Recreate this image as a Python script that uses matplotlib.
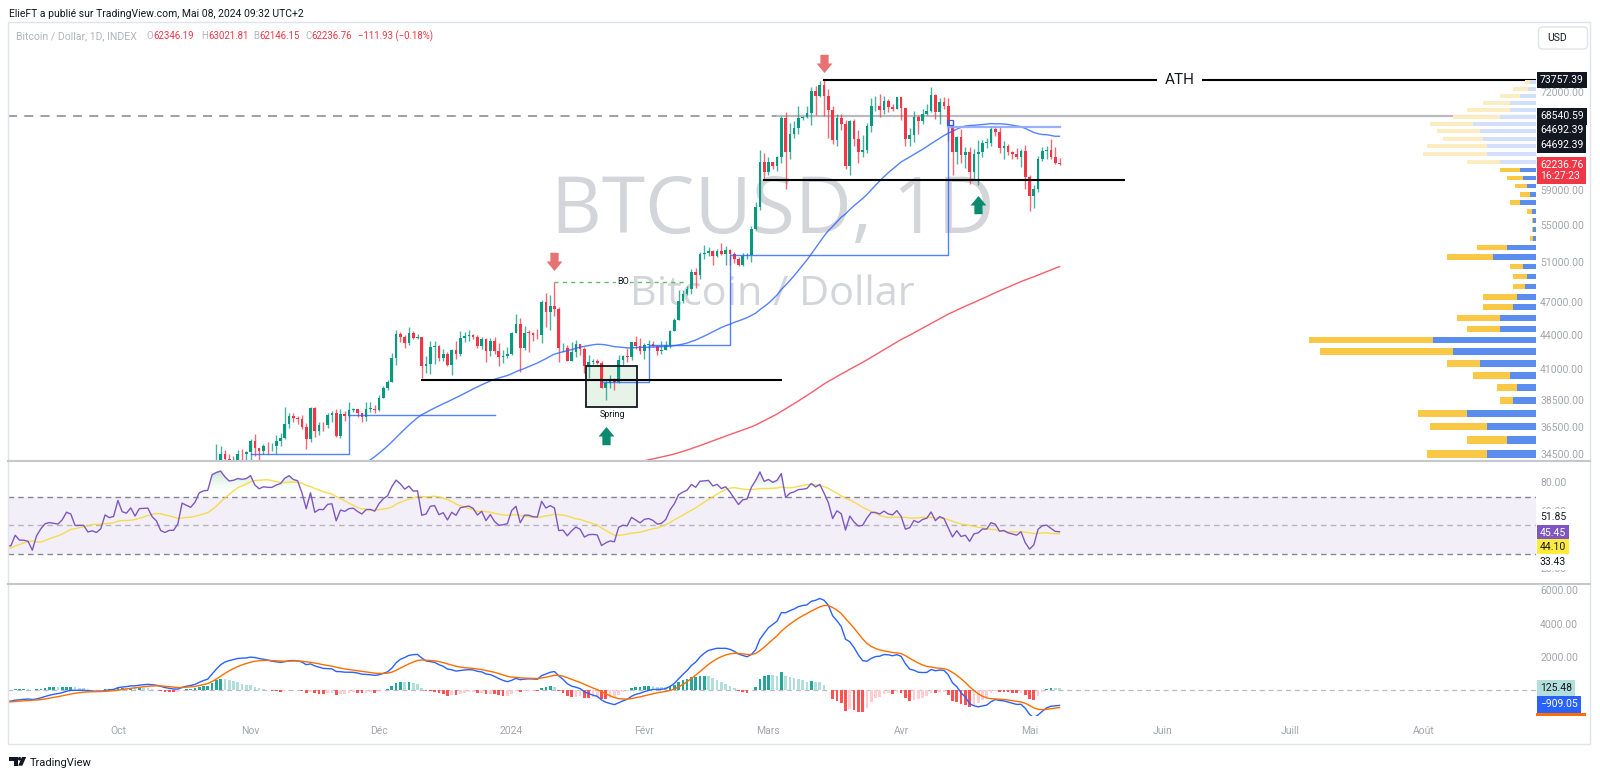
import numpy as np
import pandas as pd
import matplotlib
matplotlib.use("Agg")
import matplotlib.pyplot as plt
import matplotlib.dates as mdates
import matplotlib.transforms as mtransforms
from matplotlib.patches import Rectangle, FancyBboxPatch, Polygon, Circle
from matplotlib.lines import Line2D
from matplotlib.path import Path
from matplotlib.colors import LinearSegmentedColormap
from matplotlib.ticker import FixedLocator, NullLocator, FuncFormatter

plt.rcParams['font.family'] = ['Roboto', 'DejaVu Sans']

# ---------------- DATA ----------------
series_start = "2023-07-01"
c_2023_07 = [30585, 30617, 31156, 30767, 30505, 29895, 30347, 30292, 30171, 30414, 30620, 30391, 31476, 30334, 30295,
             30249, 30145, 29856, 29913, 29792, 29908, 29771, 30083, 29176, 29228, 29354, 29210, 29319, 29356, 29275, 29230]
c_2023_08 = [29675, 29151, 29176, 29075, 29043, 29041, 29180, 29765, 29561, 29429, 29397, 29415, 29283, 29408, 29170,
             28701, 26664, 26049, 26096, 26189, 26124, 26052, 26432, 26163, 26048, 26009, 26090, 26106, 27727, 27297, 25931]
c_2023_09 = [25800, 25869, 25940, 25812, 25780, 25753, 26240, 25906, 25895, 25830, 25162, 25840, 26228, 26540, 26608,
             26568, 26530, 26760, 27210, 27130, 26570, 26580, 26580, 26250, 26300, 26220, 26370, 27020, 26910, 26970]
c_2023_10 = [27990, 27500, 27430, 27790, 27410, 27930, 27950, 27970, 27590, 27390, 26870, 26760, 26860, 26860, 27150,
             28520, 28420, 28330, 28720, 29680, 29920, 30000, 33090, 33920, 34500, 34160, 33910, 34090, 34540, 34500, 34660]
c_2023_11 = [35440, 34940, 34730, 35080, 35050, 35050, 35420, 35650, 36700, 37310, 37130, 37070, 36490, 35550, 37880,
             36160, 36600, 36580, 37390, 37480, 35810, 37430, 37290, 37720, 37800, 37480, 37250, 37830, 37860, 37720]
c_2023_12 = [38690, 39470, 39980, 41980, 44080, 43760, 43290, 44170, 43720, 43790, 41240, 41450, 42890, 43020, 41940,
             42280, 41370, 42660, 42270, 43660, 43860, 43990, 43740, 43020, 43600, 42520, 43440, 42580, 42070, 42140, 42280]
c_2024_01 = [44180, 44950, 42850, 44180, 44160, 43970, 43930, 46970, 46110, 46630, 46340, 42780, 42840, 41730, 42510,
             43150, 42740, 41270, 41620, 41660, 41570, 39510, 39850, 40080, 39930, 41810, 42120, 42030, 43300, 42950, 42580]
c_2024_02 = [43080, 43190, 42990, 42580, 42660, 43090, 44340, 45290, 47130, 47770, 48290, 49960, 49700, 51810, 51940,
             52120, 51640, 52140, 51780, 52260, 51830, 51300, 50730, 51570, 51730, 54490, 57050, 62500, 61200]
c_2024_03 = [62440, 62030, 63170, 68330, 63800, 66110, 66930, 68300, 68500, 69020, 72120, 71480, 73080, 71400, 69400,
             65300, 68390, 67550, 61930, 67910, 65490, 63780, 64060, 67230, 69960, 69990, 69460, 70780, 69900, 69650, 71330]
c_2024_04 = [69700, 65460, 65980, 68510, 67840, 68900, 69360, 71630, 69140, 70590, 70060, 67200, 63800, 65740, 63420,
             63810, 61280, 63470, 63810, 64940, 64940, 66840, 66410, 64290, 64500, 63770, 63460, 63120, 63840, 60640]
c_2024_05 = [58250, 59120, 62890, 63890, 64030, 63160, 62346.19, 62236.76]

# (high, low) per day, from 2023-10-16
ohlc_start = "2023-10-16"
hl_2023_10 = [(30000, 27100), (28600, 28100), (28900, 28150), (28950, 28200), (30200, 28600), (30350, 29500),
              (30200, 29700), (34000, 29900), (35200, 32900), (35100, 33700), (34800, 33700), (34500, 33400),
              (34400, 33900), (34800, 33900), (34900, 34000), (34700, 34100)]
hl_2023_11 = [(35600, 34100), (35950, 34400), (34950, 34100), (35250, 34550), (35400, 34550), (35300, 34750),
              (35900, 34550), (36000, 35100), (37950, 35600), (37550, 36400), (37500, 36800), (37300, 36700),
              (37400, 36350), (36750, 34900), (37950, 35400), (37950, 35700), (36800, 35900), (36850, 36200),
              (37500, 36400), (37700, 36800), (37850, 35700), (37850, 35650), (37650, 36900), (38400, 37250),
              (37900, 37600), (37850, 37200), (37550, 36800), (38350, 36900), (38400, 37600), (38150, 37500)]
hl_2023_12 = [(38950, 37650), (39650, 38650), (40150, 39300), (42350, 39950), (44450, 41400), (44250, 43350),
              (44000, 42850), (44650, 43100), (44350, 43600), (44050, 43600), (43800, 40250), (42100, 40700),
              (43450, 40600), (43400, 41450), (43100, 41700), (42700, 41700), (42450, 41250), (42750, 40550),
              (43450, 41850), (44300, 42150), (44250, 43300), (44400, 43400), (44050, 43600), (43950, 42800),
              (43800, 42750), (43650, 41650), (43700, 42100), (43800, 42300), (43250, 41300), (42600, 41550),
              (42900, 41950)]
hl_2024_01 = [(44200, 42200), (45900, 44200), (45500, 40800), (44750, 42650), (44450, 42500), (44200, 43450),
              (44500, 43600), (47200, 43250), (47900, 44700), (47700, 44400), (49000, 45650), (46500, 41600),
              (43250, 42450), (43050, 41700), (43300, 41750), (43550, 42050), (43200, 42200), (42900, 40700),
              (42200, 40300), (41850, 41450), (41850, 41450), (41700, 39450), (40150, 38550), (40500, 39500),
              (40300, 39300), (42200, 39850), (42200, 41400), (42800, 41650), (43300, 41800), (43850, 42700),
              (43700, 42300)]
hl_2024_02 = [(43250, 41900), (43500, 42600), (43400, 42900), (43100, 42250), (43450, 42300), (43400, 42600),
              (44400, 42800), (45500, 44300), (48200, 45300), (48150, 46900), (48550, 47700), (50300, 47750),
              (50350, 48350), (52000, 49300), (52800, 51350), (52600, 51600), (52200, 50650), (52400, 51500),
              (52950, 51700), (52700, 50700), (52350, 50650), (52000, 50900), (51550, 50550), (51950, 50550),
              (51950, 51300), (54900, 50950), (57550, 54450), (64000, 56700), (63650, 60400)]
hl_2024_03 = [(63150, 60800), (62450, 61600), (63250, 61300), (68550, 62400), (69150, 59150), (67650, 62850),
              (67950, 65600), (69950, 66200), (68650, 68100), (70000, 68300), (72800, 67300), (72900, 68800),
              (73600, 71350), (73757.39, 68600), (72400, 65600), (70000, 64800), (68900, 64550), (68900, 66650),
              (68100, 61550), (68050, 60800), (68250, 64600), (66650, 62300), (65950, 63100), (67600, 63600),
              (71150, 66400), (71500, 69300), (71700, 68400), (71500, 68950), (71050, 69150), (70300, 69300),
              (71350, 69550)]
hl_2024_04 = [(71250, 68100), (69700, 64550), (66900, 64500), (69250, 65050), (68700, 66100), (69600, 67450),
              (70300, 68750), (72750, 69100), (71700, 68250), (71150, 67500), (71250, 69600), (71200, 65250),
              (67900, 60900), (65850, 62200), (66850, 62300), (64350, 61700), (64450, 59800), (64100, 60250),
              (65400, 59650), (65400, 63100), (65650, 64300), (67200, 64500), (67200, 65900), (67050, 63600),
              (65250, 62800), (64800, 63350), (63900, 62800), (64300, 62800), (64200, 61800), (64700, 59200)]
hl_2024_05 = [(60800, 56600), (59600, 56900), (63300, 58800), (64450, 62600), (64500, 62900), (65450, 62800),
              (64350, 62250), (63021.81, 62146.15)]

# visible-range volume profile: rows of 1000 USD (centres), total and up-volume (relative units)
vp_price = [34500, 35500, 36500, 37500, 38500, 39500, 40500, 41500, 42500, 43500, 44500, 45500, 46500, 47500,
            48500, 49500, 50500, 51500, 52500, 53500, 54500, 55500, 56500, 57500, 58500, 59500, 60500, 61500,
            62500, 63500, 64500, 65500, 66500, 67500, 68500, 69500, 70500, 71500, 72500, 73500]
vp_total = [109, 69, 106, 118, 36, 39, 63, 89, 216, 227, 69, 79, 53, 53, 23, 23, 26, 89, 59, 6, 4, 4, 9, 26,
            16, 21, 29, 36, 69, 113, 109, 93, 99, 106, 83, 69, 53, 36, 23, 11]
vp_up = [49, 29, 49, 69, 23, 19, 26, 56, 83, 103, 36, 36, 23, 19, 11, 9, 13, 43, 29, 3, 3, 3, 4, 16,
         6, 9, 13, 16, 36, 49, 49, 53, 56, 63, 36, 26, 26, 16, 8, 6]
value_area_top = 62000

# annotation levels
ath_level = 73757.39
ath_start = "2024-03-14"
ath_text_date = "2024-06-05"
gray_level = 68540.59
gray_switch = "2024-03-03"
support_hi = (60250, "2024-02-29", "2024-05-23")
support_lo = (40150, "2023-12-11", "2024-03-04")
range_a_dates = ["2023-11-01", "2023-11-24", "2023-12-28"]
range_a_levels = [34500, 37370, 37370]
range_b_dates = ["2024-01-22", "2024-02-02", "2024-02-21", "2024-04-12"]
range_b_levels = [39980, 43050, 51770, 67750]
range_c = (67070, "2024-04-12", "2024-05-08")
bo_level, bo_start, bo_end, bo_text_date = 49000, "2024-01-11", "2024-02-11", "2024-01-27"
spring_box = ("2024-01-18 07:00", "2024-01-30 05:00", 37960, 41270)
spring_label = ("2024-01-24 12:00", 37370)
red_arrows = [("2024-03-14", 76470), ("2024-01-11", 51070)]
green_arrows = [("2024-01-23", 35800), ("2024-04-19", 57250)]

month_ticks = ["2023-10-01", "2023-11-01", "2023-12-01", "2024-01-01", "2024-02-01", "2024-03-01",
               "2024-04-01", "2024-05-01", "2024-06-01", "2024-07-01", "2024-08-01"]
month_labels = ["Oct", "Nov", "Déc", "2024", "Févr", "Mars", "Avr", "Mai", "Juin", "Juill", "Août"]
price_ticks = [34500, 36500, 38500, 41000, 44000, 47000, 51000, 55000, 59000, 72000]
rsi_ticks = [20, 60, 80]
macd_ticks = [2000, 4000, 6000]

# ---------------- PREP ----------------
closes = np.array(c_2023_07 + c_2023_08 + c_2023_09 + c_2023_10 + c_2023_11 + c_2023_12 +
                  c_2024_01 + c_2024_02 + c_2024_03 + c_2024_04 + c_2024_05, dtype=float)
dates = pd.date_range(series_start, periods=len(closes), freq="D")
hl = hl_2023_10 + hl_2023_11 + hl_2023_12 + hl_2024_01 + hl_2024_02 + hl_2024_03 + hl_2024_04 + hl_2024_05
i0 = dates.get_loc(pd.Timestamp(ohlc_start))
o = closes[i0 - 1:-1]
cl = closes[i0:]
hi = np.maximum(np.array([p[0] for p in hl], float), np.maximum(o, cl))
lo = np.minimum(np.array([p[1] for p in hl], float), np.minimum(o, cl))
xd = mdates.date2num(dates[i0:])
xall = mdates.date2num(dates)

cs = pd.Series(closes, index=dates)
sma50 = cs.rolling(50).mean()
sma200 = cs.rolling(200).mean()
delta = cs.diff()
upm = delta.clip(lower=0).ewm(alpha=1 / 14, adjust=False).mean()
dnm = (-delta.clip(upper=0)).ewm(alpha=1 / 14, adjust=False).mean()
rsi = (100 - 100 / (1 + upm / dnm)).iloc[1:]
rsi_ma = rsi.rolling(14).mean()
ema12 = cs.ewm(span=12, adjust=False).mean()
ema26 = cs.ewm(span=26, adjust=False).mean()
macd = ema12 - ema26
sig = macd.ewm(span=9, adjust=False).mean()
hist = (macd - sig).values

# ---------------- FIGURE ----------------
W, H = 1600, 772
fig = plt.figure(figsize=(16, 7.72), dpi=100)
fig.patch.set_facecolor("white")
renderer = fig.canvas.get_renderer()
ID = mtransforms.IdentityTransform()


def fx(px):
    return px / W


def fy(py):
    return 1 - py / H


L, R = 8, 1536
T_P, B_P, B_R, B_M = 22, 461, 584, 716
ax = fig.add_axes([fx(L), fy(B_P), (R - L) / W, (B_P - T_P) / H])
ax_rsi = fig.add_axes([fx(L), fy(B_R), (R - L) / W, (B_R - B_P) / H], sharex=ax)
ax_macd = fig.add_axes([fx(L), fy(B_M), (R - L) / W, (B_M - B_R) / H], sharex=ax)

PXD = 4.28
x0 = mdates.date2num(pd.Timestamp("2023-10-01")) - (117.9 - L) / PXD
x1 = x0 + (R - L) / PXD

UP, DN = "#089981", "#f23645"
GRAYTXT = "#a3a6af"

for a in (ax, ax_rsi, ax_macd):
    for s in a.spines.values():
        s.set_visible(False)
    a.set_facecolor("none")
    a.tick_params(axis="y", left=False, right=False, labelleft=False, labelright=True,
                  labelsize=7.5, labelcolor=GRAYTXT, length=0, pad=3)
    a.tick_params(axis="x", length=0, labelbottom=False)

# ---------- price pane ----------
ax.set_yscale("log")
wm1 = ax.text(0.5007, 0.5187, "BTCUSD, 1D", transform=ax.transAxes, ha="center", va="baseline",
              fontsize=60, color="#d3d5da", family=["Open Sans", "DejaVu Sans"], zorder=0)
wm2 = ax.text(0.4999, 0.3554, "Bitcoin / Dollar", transform=ax.transAxes, ha="center", va="baseline",
              fontsize=28, color="#d3d5da", family=["Open Sans", "DejaVu Sans"], zorder=0)
for t, wpx in ((wm1, 444), (wm2, 285)):
    bb = t.get_window_extent(renderer)
    t.set_fontsize(t.get_fontsize() * wpx / bb.width)

col = np.where(cl >= o, UP, DN)
ax.vlines(xd, lo, hi, colors=col, lw=1.0, alpha=0.75, zorder=3)
ax.bar(xd, np.maximum(np.abs(cl - o), cl * 0.0015), bottom=np.minimum(o, cl), width=0.62, color=col,
       linewidth=0, zorder=4)

ax.plot(xall, sma50.values, color="#2962ff", lw=1.0, alpha=0.8, zorder=5)
ax.plot(xall, sma200.values, color="#f23645", lw=1.0, alpha=0.8, zorder=5)

d2n = lambda s: mdates.date2num(pd.Timestamp(s))
ax.plot([d2n(d) for d in range_a_dates], range_a_levels, drawstyle="steps-post", color="#2962ff", lw=1.0,
        alpha=0.8, zorder=5)
ax.plot([d2n(d) for d in range_b_dates], range_b_levels, drawstyle="steps-post", color="#2962ff", lw=1.0,
        alpha=0.8, zorder=5)
ax.plot([d2n(range_c[1]), d2n(range_c[2])], [range_c[0]] * 2, color="#8fa8fb", lw=1.6, alpha=0.9, zorder=5)
ax.add_patch(Rectangle((d2n(range_c[1]) - 0.2, 67300), 1.2, 800, fill=False, ec="#2962ff", lw=0.9, zorder=5))

# horizontal levels
ax.plot([d2n(ath_start), x1], [ath_level] * 2, color="black", lw=1.5, zorder=6)
ax.text(d2n(ath_text_date), ath_level, "ATH", ha="center", va="center", fontsize=11, color="#131722",
        zorder=7, bbox=dict(boxstyle="square,pad=0.5", fc="white", ec="none"))
ax.plot([x0, d2n(gray_switch)], [gray_level] * 2, color="#9598a1", lw=1.3, ls=(0, (5, 4)), zorder=2)
ax.plot([d2n(gray_switch), x1], [gray_level] * 2, color="#b8bac0", lw=1.6, zorder=2)
ax.plot([d2n(support_hi[1]), d2n(support_hi[2])], [support_hi[0]] * 2, color="black", lw=1.5, zorder=6)
ax.plot([d2n(support_lo[1]), d2n(support_lo[2])], [support_lo[0]] * 2, color="black", lw=1.5, zorder=6)

# BO dashed
ax.plot([d2n(bo_start), d2n(bo_end)], [bo_level] * 2, color="#66bb6a", lw=1.0, ls=(0, (3, 3)), zorder=5)
ax.text(d2n(bo_text_date), bo_level, "BO", ha="center", va="center", fontsize=6.5, color="#131722",
        zorder=7, bbox=dict(boxstyle="square,pad=0.15", fc="white", ec="none"))

# Spring box
sx0, sx1 = d2n(spring_box[0]), d2n(spring_box[1])
ax.add_patch(Rectangle((sx0, spring_box[2]), sx1 - sx0, spring_box[3] - spring_box[2], fc="#e4f2e4",
                       ec="none", alpha=0.85, zorder=2))
ax.add_patch(Rectangle((sx0, spring_box[2]), sx1 - sx0, spring_box[3] - spring_box[2], fill=False,
                       ec="#131722", lw=1.3, zorder=6))
ax.text(d2n(spring_label[0]), spring_label[1], "Spring", ha="center", va="center", fontsize=6.5,
        color="#131722", zorder=7)

# arrows
arrow_down = Path([(-0.26, 0.55), (0.26, 0.55), (0.26, 0.0), (0.5, 0.0), (0.0, -0.6), (-0.5, 0.0),
                   (-0.26, 0.0), (-0.26, 0.55)], closed=True)
arrow_up = Path([(x, -y) for x, y in arrow_down.vertices], closed=True)
for d, p in red_arrows:
    ax.plot([d2n(d)], [p], marker=arrow_down, markersize=13.7, color="#e57373", mec="none", zorder=8,
            clip_on=False)
for d, p in green_arrows:
    ax.plot([d2n(d)], [p], marker=arrow_up, markersize=13.7, color="#0b8a6e", mec="none", zorder=8,
            clip_on=False)

ax.set_ylim(34030, 83040)
ax.yaxis.set_major_locator(FixedLocator(price_ticks))
ax.yaxis.set_minor_locator(NullLocator())
ax.yaxis.set_major_formatter(FuncFormatter(lambda v, p: f"{v:.2f}"))

# volume profile overlay
ax_vp = fig.add_axes(ax.get_position(), sharey=ax)
ax_vp.set_xlim(R - L, 0)
ax_vp.patch.set_alpha(0)
ax_vp.axis("off")
vp_p = np.array(vp_price, float)
vp_t = np.array(vp_total, float)
vp_u = np.array(vp_up, float)
in_va = vp_p < value_area_top
blue_c = np.where(in_va, "#5b8def", "#d3e0fb")
yel_c = np.where(in_va, "#f9c846", "#fcecc2")
ax_vp.barh(vp_p, vp_u, height=560, left=0, color=blue_c, linewidth=0)
ax_vp.barh(vp_p, vp_t - vp_u, height=560, left=vp_u, color=yel_c, linewidth=0)
ax_vp.set_ylim(34030, 83040)

# ---------- RSI pane ----------
xr = mdates.date2num(rsi.index)
rv = rsi.values
ax_rsi.axhspan(30, 70, color="#7e57c2", alpha=0.09, lw=0, zorder=0)
for lvl, al in ((70, 0.9), (50, 0.5), (30, 0.9)):
    ax_rsi.axhline(lvl, color="#787b86", lw=1.0, ls=(0, (4, 3)), alpha=al, zorder=1)
poly = ax_rsi.fill_between(xr, 70, np.maximum(rv, 70), color="none", lw=0)
grad = np.linspace(0, 1, 256).reshape(-1, 1)
cm_g = LinearSegmentedColormap.from_list("g", [(1, 1, 1, 0), (0.30, 0.69, 0.38, 0.6)])
im = ax_rsi.imshow(grad, extent=[xr[0], xr[-1], 70, 95], origin="lower", aspect="auto", cmap=cm_g, zorder=1)
im.set_clip_path(poly.get_paths()[0], transform=ax_rsi.transData)
poly2 = ax_rsi.fill_between(xr, np.minimum(rv, 30), 30, color="none", lw=0)
cm_r = LinearSegmentedColormap.from_list("r", [(0.95, 0.21, 0.27, 0.6), (1, 1, 1, 0)])
im2 = ax_rsi.imshow(grad, extent=[xr[0], xr[-1], 5, 30], origin="lower", aspect="auto", cmap=cm_r, zorder=1)
im2.set_clip_path(poly2.get_paths()[0], transform=ax_rsi.transData)
ax_rsi.plot(xr, rsi_ma.values, color="#f8d93c", lw=1.0, alpha=0.9, zorder=2)
ax_rsi.plot(xr, rv, color="#7e57c2", lw=1.0, zorder=3)
ax_rsi.set_ylim(9.06, 94.9)
ax_rsi.yaxis.set_major_locator(FixedLocator(rsi_ticks))
ax_rsi.yaxis.set_major_formatter(FuncFormatter(lambda v, p: f"{v:.2f}"))

# ---------- MACD pane ----------
hcol = []
for i, v in enumerate(hist):
    prev = hist[i - 1] if i > 0 else v
    if v >= 0:
        hcol.append("#26a69a" if v > prev else "#b2dfdb")
    else:
        hcol.append("#ff5252" if v < prev else "#ffcdd2")
ax_macd.axhline(0, color="#787b86", lw=0.9, ls=(0, (4, 3)), alpha=0.5, zorder=1)
ax_macd.bar(xall, hist, width=0.62, color=hcol, linewidth=0, zorder=2)
ax_macd.plot(xall, macd.values, color="#2962ff", lw=1.0, zorder=3)
ax_macd.plot(xall, sig.values, color="#ff6d00", lw=1.0, zorder=3)
ax_macd.set_ylim(-1542, 6378)
ax_macd.yaxis.set_major_locator(FixedLocator(macd_ticks))
ax_macd.yaxis.set_major_formatter(FuncFormatter(lambda v, p: f"{v:.2f}"))
ax_macd.set_xticks([d2n(d) for d in month_ticks])
ax_macd.set_xticklabels(month_labels)
ax_macd.tick_params(axis="x", labelbottom=True, labelsize=7.5, labelcolor=GRAYTXT, length=0, pad=7.5)

ax.set_xlim(x0, x1)


# ---------- right-axis value labels ----------
def vlabel(axx, val, text, fc, tc, dy=0.0, fs=7.5, ls=1.2):
    tr = mtransforms.offset_copy(axx.get_yaxis_transform(), fig=fig, x=4, y=dy, units="dots")
    kw = dict(boxstyle="square,pad=0.3", fc=fc, ec="none") if fc else None
    axx.text(1.0, val, text, transform=tr, ha="left", va="center", color=tc, fontsize=fs,
             clip_on=False, zorder=30, bbox=kw, linespacing=ls)


vlabel(ax, 73757.39, "73757.39", "#131722", "white")
vlabel(ax, 68540.59, "68540.59", "#131722", "white")
vlabel(ax, 64692.39, "64692.39", "#131722", "white", dy=14.4)
vlabel(ax, 64692.39, "64692.39", "#131722", "white")
vlabel(ax, 62236.76, "62236.76\n16:27:23", "#f23645", "white", dy=-6.2, ls=1.12)
vlabel(ax_rsi, 51.85, "51.85", "white", "#131722", dy=5.3)
vlabel(ax_rsi, 45.45, "45.45", "#7e57c2", "white", dy=-1.2)
vlabel(ax_rsi, 44.10, "44.10", "#ffeb3b", "#131722", dy=-12.9)
vlabel(ax_rsi, 33.43, "33.43", "white", "#131722", dy=-13.2)
vlabel(ax_macd, 125.48, "125.48", "#b2dfdb", "#131722")
vlabel(ax_macd, -909.05, "\u2212909.05", "#2962ff", "white", dy=1.0)
fig.add_artist(Rectangle((1536, H - 716), 50, 3, transform=ID, fc="#ff6d00", ec="none", zorder=30))

# ---------- frame & separators ----------
fig.add_artist(Rectangle((8, H - 744), 1582, 722, transform=ID, fill=False, ec="#e0e3eb", lw=1.0))
for yy in (B_P, B_R):
    fig.add_artist(Line2D([8, 1590], [H - yy, H - yy], transform=ID, color="#c5c7cc", lw=1.5))

# ---------- header ----------
t = fig.text(fx(9), fy(17.3), "ElieFT a publié sur TradingView.com, Mai 08, 2024 09:32 UTC+2",
             fontsize=8, color="#131722", va="baseline", ha="left")
bb = t.get_window_extent(renderer)
t.set_fontsize(8 * 296 / bb.width)

t0 = fig.text(fx(16), fy(39.3), "Bitcoin / Dollar, 1D, INDEX", fontsize=8, color="#b2b5be",
              va="baseline", ha="left")
bb = t0.get_window_extent(renderer)
t0.set_fontsize(8 * 122 / bb.width)
tm = fig.text(0, 0, "O62346.19", fontsize=8)
num_fs = 8 * 47.0 / tm.get_window_extent(renderer).width
tm.remove()
pieces = [(146.7, [("O", "#b2b5be"), ("62346.19", "#f23645")]),
          (201.7, [("H", "#b2b5be"), ("63021.81", "#f23645")]),
          (253.3, [("B", "#b2b5be"), ("62146.15", "#f23645")]),
          (305.0, [("C", "#b2b5be"), ("62236.76", "#f23645")]),
          (358.3, [("\u2212111.93 (\u22120.18%)", "#f23645")])]
for xs, parts in pieces:
    xcur = xs
    for txt, c in parts:
        tt = fig.text(fx(xcur), fy(39.3), txt, fontsize=num_fs, color=c, va="baseline", ha="left")
        xcur += tt.get_window_extent(renderer).width

# USD button
fig.add_artist(FancyBboxPatch((1538.5, H - 49), 49, 22, boxstyle="round,pad=0,rounding_size=4",
                              transform=ID, fc="white", ec="#e0e3eb", lw=1.0))
fig.text(fx(1547), fy(38), "USD", fontsize=7.5, color="#131722", va="center", ha="left")

# footer logo
fig.add_artist(Polygon([(9, H - 757), (17.5, H - 757), (17.5, H - 765.7), (13.5, H - 765.7),
                        (13.5, H - 760.5), (9, H - 760.5)], closed=True, transform=ID, fc="#131722", ec="none"))
fig.add_artist(Circle((19.6, H - 758.8), 1.8, transform=ID, fc="#131722", ec="none"))
fig.add_artist(Polygon([(22.0, H - 757), (26.2, H - 757), (22.3, H - 765.7), (18.2, H - 765.7)],
                       closed=True, transform=ID, fc="#131722", ec="none"))
tf = fig.text(fx(29.3), fy(765.5), "TradingView", fontsize=8, color="#131722", va="baseline", ha="left")
bb = tf.get_window_extent(renderer)
tf.set_fontsize(8 * 62 / bb.width)

fig.savefig("out.png", dpi=100, facecolor="white")
